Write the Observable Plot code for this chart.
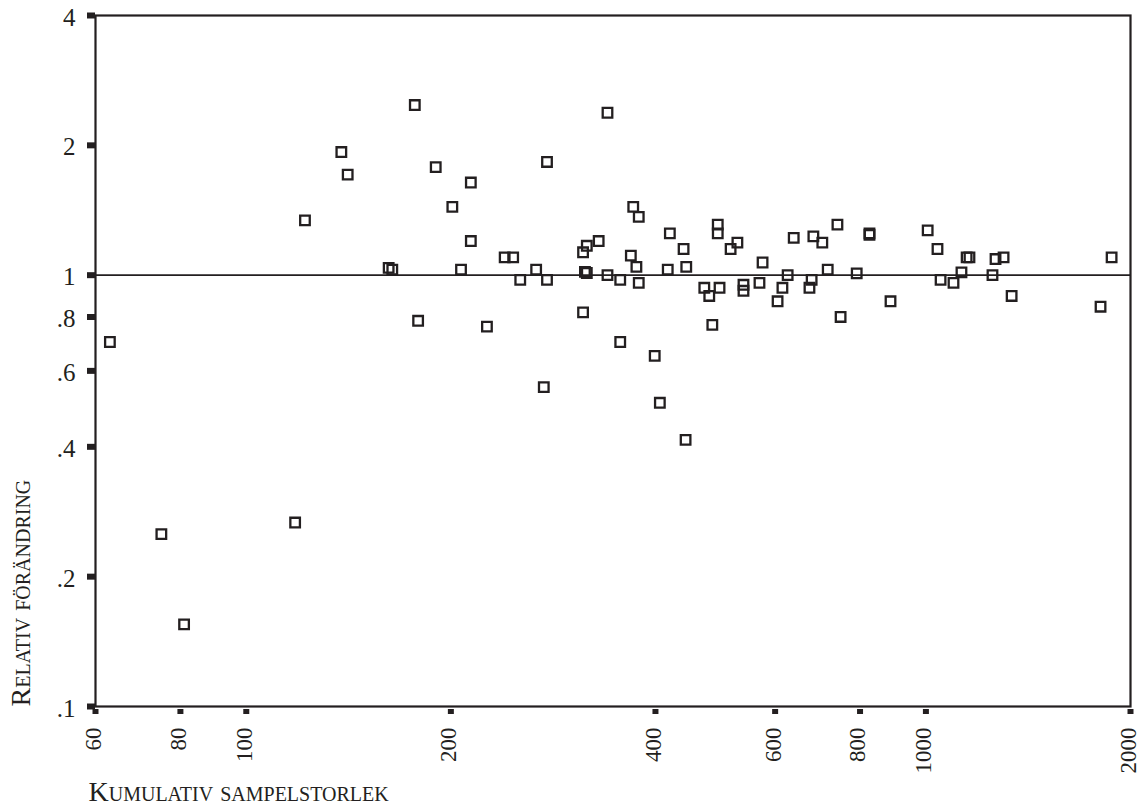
<!DOCTYPE html>
<html><head><meta charset="utf-8">
<script src="https://cdn.jsdelivr.net/npm/d3@7"></script>
<script src="https://cdn.jsdelivr.net/npm/@observablehq/plot@0.6"></script>
<style>
body{margin:0;background:#fff}
</style></head><body><div id="chart"></div>
<script>
const sampleSize = [63,75,81,118,122,138,141,162,164,177,190,214,201,214,207,240,247,253,179,226,
  340,277,371,378,420,440,330,317,313,368,375,417,444,267,277,315,317,340,355,378,
  313,355,399,274,406,443,494,494,516,528,575,639,683,704,741,826,826,472,480,497,
  539,539,569,626,615,605,679,674,717,791,485,749,887,1006,1040,1148,1159,1266,1301,1876,
  1128,1051,1098,1253,1337,1807];
const relChange = [0.70,0.251,0.155,0.267,1.34,1.93,1.71,1.04,1.03,2.48,1.78,1.64,1.44,1.20,1.03,1.10,1.10,0.975,0.784,0.76,
  2.38,1.83,1.44,1.365,1.25,1.15,1.20,1.17,1.13,1.11,1.045,1.03,1.045,1.03,0.975,1.018,1.012,1.0,0.975,0.96,
  0.82,0.70,0.65,0.55,0.506,0.415,1.31,1.25,1.15,1.19,1.07,1.22,1.23,1.19,1.31,1.25,1.24,0.935,0.895,0.935,
  0.95,0.92,0.96,1.0,0.935,0.87,0.975,0.935,1.03,1.01,0.767,0.80,0.87,1.27,1.15,1.10,1.10,1.09,1.10,1.10,
  1.015,0.975,0.96,1.0,0.895,0.845];
const xTicks = [60,80,100,200,400,600,800,1000,2000];
const xTickLabels = ["60","80","100","200","400","600","800","1000","2000"];
const yTicks = [0.1,0.2,0.4,0.6,0.8,1,2,4];
const yTickLabels = [".1",".2",".4",".6",".8","1","2","4"];
const xTitle = "Kumulativ sampelstorlek";
const yTitle = "Relativ förändring";

const data = sampleSize.map((x,i)=>({x, y: relChange[i]}));
const ink = "#231f20";
const chart = Plot.plot({
  width:1139, height:809, marginLeft:95, marginRight:9, marginTop:15, marginBottom:103,
  style:{fontFamily:"'Liberation Serif', 'DejaVu Serif', serif", background:"#fff", color: ink},
  x:{type:"log", domain:[60,2000]},
  y:{type:"log", domain:[0.1,4]},
  marks:[
    Plot.frame({stroke:ink, strokeWidth:2.2}),
    Plot.ruleY([1], {stroke:ink, strokeWidth:1.8}),
    Plot.axisY({ticks:yTicks, tickSize:8, strokeWidth:6, fill:"none", tickFormat:()=>"", label:null}),
    Plot.axisX({ticks:xTicks, tickSize:5, dy:3, strokeWidth:6, fill:"none", tickFormat:()=>"", label:null}),
    Plot.text(yTicks, {y:d=>d, frameAnchor:"left", text:(d,i)=>yTickLabels[i], textAnchor:"end",
      lineAnchor:"middle", dx:-20, dy:2, fontSize:25, fill:ink}),
    Plot.text(xTicks, {x:d=>d, frameAnchor:"bottom", text:(d,i)=>xTickLabels[i], rotate:-90, textAnchor:"end",
      lineAnchor:"middle", dx:-2, dy:21, fontSize:23, fill:ink}),
    Plot.dot(data, {x:"x", y:"y", symbol:"square", r:5.4, stroke:ink, strokeWidth:2.3, fill:"none"}),
    Plot.text([yTitle], {text:d=>d, frameAnchor:"bottom-left", rotate:-90, textAnchor:"start", lineAnchor:"bottom",
      dx:-66, fontSize:28, fontVariant:"small-caps", fill:ink}),
    Plot.text([xTitle], {text:d=>d, frameAnchor:"bottom-left", textAnchor:"start", lineAnchor:"bottom",
      dx:-7, dy:94, fontSize:28, fontVariant:"small-caps", fill:ink})
  ]
});
document.getElementById("chart").appendChild(chart);
</script></body></html>
